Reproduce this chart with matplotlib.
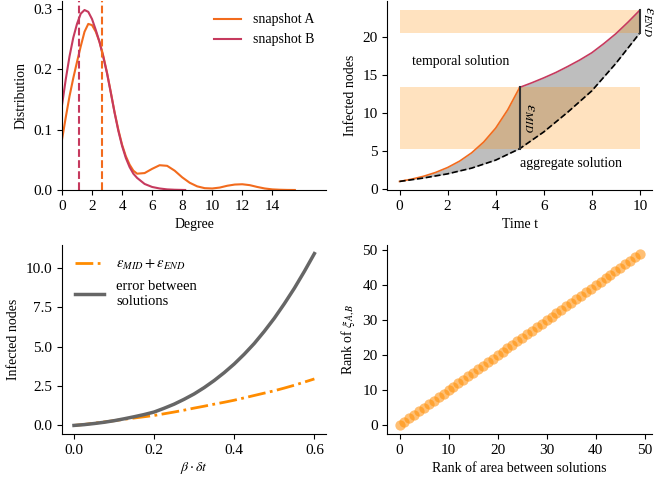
import numpy as np
import matplotlib
matplotlib.use("Agg")
import matplotlib.pyplot as plt

plt.rcParams['font.family'] = ['Liberation Serif', 'DejaVu Serif']
plt.rcParams['mathtext.fontset'] = 'stix'
plt.rcParams['font.size'] = 10

ORANGE = '#f26b1d'
CRIMSON = '#c63a5e'

# --- degree distributions ---
degA = [0, 0.25, 0.5, 0.75, 1, 1.25, 1.5, 1.75, 2, 2.25, 2.5, 2.75, 3, 3.25,
        3.5, 3.75, 4, 4.25, 4.5, 4.75, 5, 5.5, 6, 6.5, 7, 7.5, 8,
        8.5, 9, 9.5, 10, 10.5, 11, 11.5, 12, 12.5, 13, 13.5, 14, 14.5, 15, 15.5]
distA = [0.083, 0.12, 0.155, 0.185, 0.212, 0.238, 0.262, 0.275, 0.273, 0.262,
         0.245, 0.222, 0.194, 0.162, 0.129, 0.1, 0.075, 0.056, 0.042, 0.032,
         0.027, 0.028, 0.035, 0.041, 0.04, 0.032, 0.021, 0.012, 0.006, 0.003,
         0.0025, 0.004, 0.007, 0.009, 0.0095, 0.008, 0.005, 0.0025, 0.001,
         0.0004, 0.0001, 0.0]
degB = [0, 0.25, 0.5, 0.75, 1, 1.25, 1.5, 1.75, 2, 2.25, 2.5, 2.75, 3, 3.25,
        3.5, 3.75, 4, 4.25, 4.5, 4.75, 5, 5.5, 6, 6.5, 7, 7.5, 8, 8.2]
distB = [0.14, 0.183, 0.221, 0.252, 0.275, 0.292, 0.298, 0.295, 0.283, 0.265,
         0.245, 0.22, 0.193, 0.161, 0.128, 0.098, 0.073, 0.053, 0.038, 0.027,
         0.02, 0.01, 0.005, 0.0025, 0.001, 0.0004, 0.0001, 0.0]
meanA = 2.68
meanB = 1.12

# --- temporal vs aggregate solution ---
t_first = [0, 0.5, 1, 1.5, 2, 2.5, 3, 3.5, 4, 4.5, 5]
temp_first = [1, 1.3, 1.68, 2.18, 2.83, 3.67, 4.76, 6.17, 8.0, 10.4, 13.35]
t_second = [5, 5.5, 6, 6.5, 7, 7.5, 8, 8.5, 9, 9.5, 10]
temp_second = [13.35, 13.95, 14.6, 15.3, 16.1, 16.95, 17.9, 19.1, 20.4, 21.9, 23.5]
t_agg = [0, 1, 2, 3, 4, 5, 6, 7, 8, 9, 10]
agg = [1, 1.45, 2.0, 2.75, 3.8, 5.3, 7.5, 10.1, 12.9, 16.5, 20.5]

# --- error vs beta*dt ---
bdt = [0, 0.025, 0.05, 0.075, 0.1, 0.125, 0.15, 0.175, 0.2, 0.225, 0.25,
       0.275, 0.3, 0.325, 0.35, 0.375, 0.4, 0.425, 0.45, 0.475, 0.5, 0.525,
       0.55, 0.575, 0.6]
err_sum = [0, 0.06, 0.14, 0.22, 0.3, 0.39, 0.47, 0.55, 0.63, 0.74, 0.85,
           0.97, 1.1, 1.22, 1.35, 1.47, 1.6, 1.75, 1.9, 2.05, 2.2, 2.37,
           2.55, 2.75, 2.95]
err_true = [0, 0.05, 0.12, 0.2, 0.3, 0.42, 0.55, 0.69, 0.85, 1.09, 1.35,
            1.66, 2.0, 2.4, 2.85, 3.35, 3.9, 4.52, 5.2, 5.97, 6.8, 7.72,
            8.7, 9.77, 10.9]

# --- ranks ---
rank_area = list(range(50))
rank_xi = list(range(50))

fig, axes = plt.subplots(2, 2, figsize=(6.7, 4.78), dpi=100)
plt.subplots_adjust(left=0.0925, right=0.973, top=0.998, bottom=0.092,
                    wspace=0.231, hspace=0.291)

for a in axes.flat:
    a.spines['top'].set_visible(False)
    a.spines['right'].set_visible(False)
    a.tick_params(direction='out', length=3.5, width=0.8, labelsize=11)

# top left
ax = axes[0, 0]
ax.plot(degA, distA, color=ORANGE, lw=1.5, label='snapshot A')
ax.plot(degB, distB, color=CRIMSON, lw=1.5, label='snapshot B')
ax.axvline(meanA, color=ORANGE, ls='--', lw=1.5)
ax.axvline(meanB, color=CRIMSON, ls='--', lw=1.5)
ax.set_xlim(0, 17.6)
ax.set_ylim(0, 0.313)
ax.set_xticks([0, 2, 4, 6, 8, 10, 12, 14])
ax.set_yticks([0.0, 0.1, 0.2, 0.3])
ax.set_xlabel('Degree')
ax.set_ylabel('Distribution')
ax.legend(frameon=False, loc='upper right')

# top right
ax = axes[0, 1]
t_all = t_first + t_second[1:]
temp_all = temp_first + temp_second[1:]
ax.fill_between(t_all, temp_all, np.interp(t_all, t_agg, agg),
                color='#bebebe', lw=0)
ax.fill_between([0, 10], agg[5], temp_first[-1], color='darkorange', alpha=0.25, lw=0)
ax.fill_between([0, 10], agg[-1], temp_second[-1], color='darkorange', alpha=0.25, lw=0)
ax.plot(t_first, temp_first, color=ORANGE, lw=1.2)
ax.plot(t_second, temp_second, color=CRIMSON, lw=1.2)
ax.plot(t_agg, agg, color='black', ls='--', lw=1.2)
ax.plot([5, 5], [agg[5], temp_first[-1]], color='#333333', lw=1.5)
ax.plot([10, 10], [agg[-1], temp_second[-1]], color='#333333', lw=1.5)
ax.text(5.1, 9.3, r'$\varepsilon_{MID}$', rotation=-90, va='center', ha='left',
        fontsize=11.5)
ax.text(10.05, 22.0, r'$\varepsilon_{END}$', rotation=-90, va='center', ha='left',
        fontsize=11.5)
ax.text(0.5, 16.7, 'temporal solution', va='center', ha='left')
ax.text(5.0, 3.3, 'aggregate solution', va='center', ha='left')
ax.set_xlim(-0.5, 10.5)
ax.set_ylim(-0.12, 24.7)
ax.set_xticks([0, 2, 4, 6, 8, 10])
ax.set_yticks([0, 5, 10, 15, 20])
ax.set_xlabel('Time t')
ax.set_ylabel('Infected nodes')

# bottom left
ax = axes[1, 0]
ax.plot(bdt, err_sum, color='darkorange', ls='-.', lw=2,
        label=r'$\varepsilon_{MID}+\varepsilon_{END}$')
ax.plot(bdt, err_true, color='#666666', lw=2.5,
        label='error between\nsolutions')
ax.set_xticks([0.0, 0.2, 0.4, 0.6])
ax.set_yticks([0.0, 2.5, 5.0, 7.5, 10.0])
ax.set_xlabel(r'$\beta\cdot\delta t$', labelpad=2)
ax.set_ylabel('Infected nodes')
ax.legend(frameon=False, loc='upper left', fontsize=10.5)

# bottom right
ax = axes[1, 1]
ax.scatter(rank_area, rank_xi, s=55, color='darkorange', alpha=0.55, lw=0)
ax.set_xticks([0, 10, 20, 30, 40, 50])
ax.set_yticks([0, 10, 20, 30, 40, 50])
ax.set_xlabel('Rank of area between solutions')
ax.set_ylabel(r'Rank of $\xi_{A,B}$')

fig.savefig('out.png', dpi=100)
